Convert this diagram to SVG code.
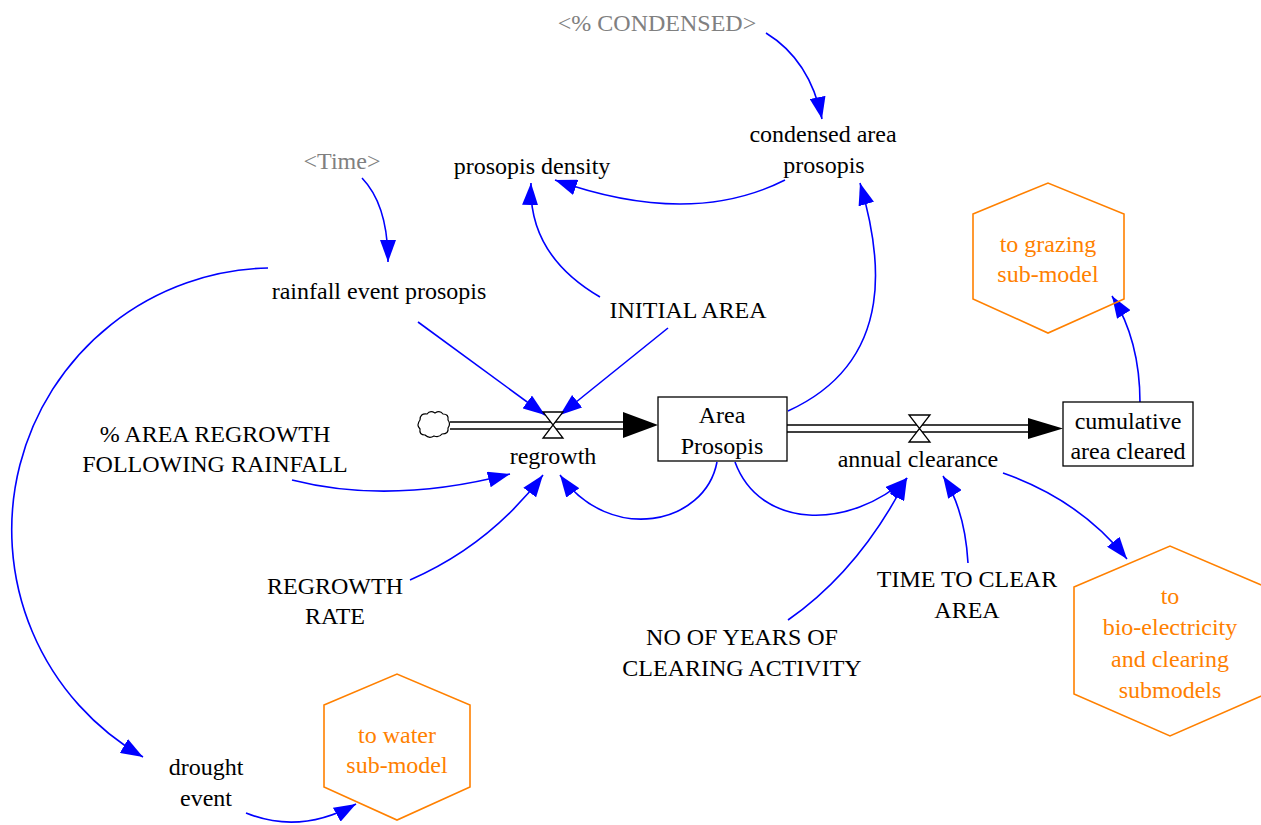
<svg xmlns="http://www.w3.org/2000/svg" width="1261" height="825" viewBox="0 0 1261 825" font-family="'Liberation Serif', 'DejaVu Serif', serif">
<style>
text{font-family:'Liberation Serif','DejaVu Serif',serif;font-size:24px;text-anchor:middle;fill:#000}
.g{fill:#808080}
.o{fill:#ff8000}
.hex{fill:none;stroke:#ff8000;stroke-width:1.6}
.c{fill:none;stroke:#0000ff;stroke-width:1.6;marker-end:url(#a)}
.box{fill:#fff;stroke:#000;stroke-width:1.3}
.pipe{stroke:#000;stroke-width:1.3}
.valve{fill:#fff;stroke:#000;stroke-width:1.3}
</style>
<defs>
<marker id="a" viewBox="0 0 22 16" refX="22" refY="8" markerWidth="22" markerHeight="16" orient="auto" markerUnits="userSpaceOnUse"><path d="M0,0 L22,8 L0,16 Z" fill="#0000ff"/></marker>
</defs>
<rect width="1261" height="825" fill="#fff"/>

<g id="connectors">
<path class="c" d="M766,33 Q810,60 822,119"/>
<path class="c" d="M785,180 Q690,228 555,180"/>
<path class="c" d="M600,297 Q528,255 531,183"/>
<path class="c" d="M362,178 Q388,205 388,262"/>
<path class="c" d="M418,322 L545,415"/>
<path class="c" d="M668,328 L560,415"/>
<path class="c" d="M292,480 Q390,505 510,474"/>
<path class="c" d="M410,580 Q490,545 543,475"/>
<path class="c" d="M717,462 C705,525 610,545 560,475"/>
<path class="c" d="M735,462 C760,530 850,530 907,478"/>
<path class="c" d="M788,620 Q860,570 907,478"/>
<path class="c" d="M968,563 Q965,510 943,476"/>
<path class="c" d="M788,411 C900,360 880,250 860,183"/>
<path class="c" d="M1140,403 Q1140,340 1112,296"/>
<path class="c" d="M1003,473 Q1080,500 1127,559"/>
<path class="c" d="M268,268 A262,262 0 0,0 143,757"/>
<path class="c" d="M246,813 Q300,835 356,804"/>
</g>

<g id="flow-regrowth">
<path d="M450,422 H625 M450,429 H625" class="pipe"/>
<path d="M623,412 L658,425 L623,438 Z" fill="#000"/>
<path d="M420,420 q0,-7 7,-6 q3,-4 8,-1 q5,-3 8,1 q6,0 5,6 q3,4 0,8 q1,6 -6,6 q-3,4 -8,2 q-5,3 -9,-1 q-6,0 -5,-6 q-4,-4 0,-9 Z" fill="#fff" stroke="#000" stroke-width="1.2"/>
<path class="valve" d="M543,412 L563,412 L543,438 L563,438 Z"/>
<text x="553" y="464">regrowth</text>
</g>

<g id="flow-clearance">
<path d="M787,425 H1030 M787,432 H1030" class="pipe"/>
<path d="M1028,418 L1063,428.5 L1028,439 Z" fill="#000"/>
<path class="valve" d="M909,415 L930,415 L909,442 L930,442 Z"/>
<text x="918" y="467">annual clearance</text>
</g>

<g id="area-prosopis">
<rect class="box" x="658" y="397" width="129" height="64"/>
<text x="722" y="423">Area</text>
<text x="722" y="454">Prosopis</text>
</g>

<g id="cumulative-area-cleared">
<rect class="box" x="1063" y="402" width="130" height="64"/>
<text x="1128" y="429">cumulative</text>
<text x="1128" y="459">area cleared</text>
</g>

<g id="pct-condensed"><text class="g" x="657" y="31">&lt;% CONDENSED&gt;</text></g>
<g id="condensed-area-prosopis"><text x="823" y="142">condensed area</text><text x="824" y="173">prosopis</text></g>
<g id="prosopis-density"><text x="532" y="174">prosopis density</text></g>
<g id="time"><text class="g" x="342" y="169">&lt;Time&gt;</text></g>
<g id="rainfall-event-prosopis"><text x="379" y="299">rainfall event prosopis</text></g>
<g id="initial-area"><text x="688" y="318">INITIAL AREA</text></g>
<g id="pct-area-regrowth"><text x="215" y="442">% AREA REGROWTH</text><text x="215" y="472">FOLLOWING RAINFALL</text></g>
<g id="regrowth-rate"><text x="335" y="594">REGROWTH</text><text x="335" y="624">RATE</text></g>
<g id="no-of-years"><text x="742" y="645">NO OF YEARS OF</text><text x="742" y="676">CLEARING ACTIVITY</text></g>
<g id="time-to-clear"><text x="967" y="587">TIME TO CLEAR</text><text x="967" y="618">AREA</text></g>
<g id="drought-event"><text x="206" y="775">drought</text><text x="206" y="806">event</text></g>

<g id="to-water">
<polygon class="hex" points="324,705 397,674 470,705 470,787 397,820 324,787"/>
<text class="o" x="397" y="743">to water</text>
<text class="o" x="397" y="773">sub-model</text>
</g>
<g id="to-grazing">
<polygon class="hex" points="973,214 1048,183 1124,214 1124,299 1048,333 973,299"/>
<text class="o" x="1048" y="252">to grazing</text>
<text class="o" x="1048" y="282">sub-model</text>
</g>
<g id="to-bio-electricity">
<polygon class="hex" points="1074,587 1170,546 1266,587 1266,694 1170,736 1074,694"/>
<text class="o" x="1170" y="604">to</text>
<text class="o" x="1170" y="635">bio-electricity</text>
<text class="o" x="1170" y="667">and clearing</text>
<text class="o" x="1170" y="698">submodels</text>
</g>
</svg>
